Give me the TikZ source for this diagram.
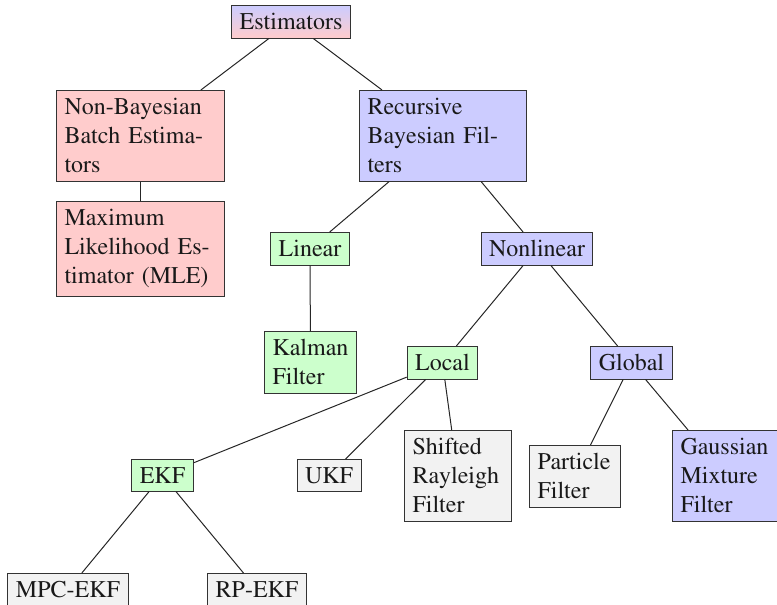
\documentclass[tikz,border=0pt]{standalone}
\usepackage[T1]{fontenc}
\usepackage{mathptmx}
\begin{document}
\begin{tikzpicture}[x=1pt,y=-1pt,
  every node/.style={font=\fontsize{12}{14.5}\selectfont, inner sep=4pt, text=black!90},
  box/.style={draw=black!80, line width=0.5pt, rectangle},
  pinkbox/.style={box, fill=red!20},
  bluebox/.style={box, fill=blue!20},
  greenbox/.style={box, fill=green!20},
  greybox/.style={box, fill=black!5},
  rootbox/.style={box, top color=blue!20, bottom color=red!20},
  para/.style={align=left, text width=#1},
  link/.style={draw=black!85, line width=0.5pt}]
\useasboundingbox (0,0) rectangle (388.5,302.5);

% top level
\node[rootbox, anchor=north] (est) at (145.5,2.5) {Estimators};
\node[pinkbox, para=76pt, anchor=north west] (nbb) at (28,45) {Non-Bayesian\\Batch Estima-\\tors};
\node[bluebox, para=75.5pt, anchor=north west] (rbf) at (179.5,45) {Recursive\\Bayesian Fil-\\ters};
\node[pinkbox, para=76pt, anchor=north west] (mle) at (28,100.5) {Maximum\\Likelihood Es-\\timator (MLE)};

% linear / nonlinear branch
\node[greenbox, anchor=north] (lin) at (155,116) {Linear};
\node[bluebox, anchor=north] (nonlin) at (268.5,116) {Nonlinear};
\node[greenbox, para=38pt, anchor=north west] (kal) at (132,165.5) {Kalman\\Filter};
\node[greenbox, anchor=north] (loc) at (221.25,173) {Local};
\node[bluebox, anchor=north] (glob) at (315.75,173) {Global};

% filters
\node[greenbox, anchor=north] (ekf) at (81.25,229.5) {EKF};
\node[greybox, anchor=north] (ukf) at (164.5,229.5) {UKF};
\node[greybox, para=45.5pt, anchor=north west] (srf) at (202,215) {Shifted\\Rayleigh\\Filter};
\node[greybox, para=37.5pt, anchor=north west] (pf) at (264.5,222.5) {Particle\\Filter};
\node[bluebox, para=46pt, anchor=north west] (gmf) at (336,215) {Gaussian\\Mixture\\Filter};

% EKF variants
\node[greybox, anchor=north] (mpc) at (34,286.5) {MPC-EKF};
\node[greybox, anchor=north] (rp) at (128.5,286.5) {RP-EKF};

% tree connections
\draw[link] (est) -- (nbb);
\draw[link] (est) -- (rbf);
\draw[link] (nbb) -- (mle);
\draw[link] (rbf) -- (lin);
\draw[link] (rbf) -- (nonlin);
\draw[link] (lin) -- (kal);
\draw[link] (nonlin) -- (loc);
\draw[link] (nonlin) -- (glob);
\draw[link] (loc) -- (ekf);
\draw[link] (loc) -- (ukf);
\draw[link] (loc) -- (srf);
\draw[link] (glob) -- (pf);
\draw[link] (glob) -- (gmf);
\draw[link] (ekf) -- (mpc);
\draw[link] (ekf) -- (rp);
\end{tikzpicture}
\end{document}
